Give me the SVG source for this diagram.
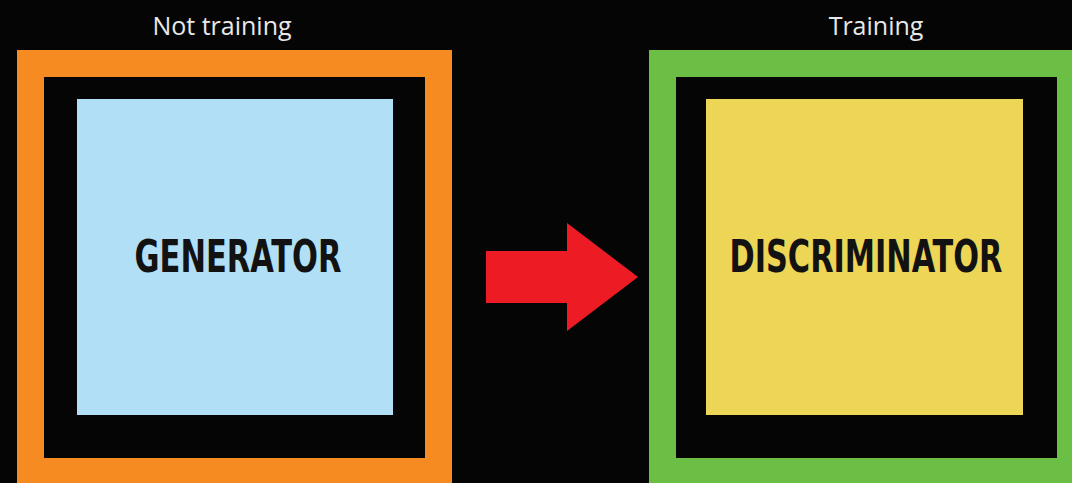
<svg xmlns="http://www.w3.org/2000/svg" width="1072" height="483" viewBox="0 0 1072 483">
<style>
.cap{font-family:"Open Sans","Noto Sans",sans-serif;font-size:25px;fill:#e8e8e8;text-anchor:middle}
.lbl{font-family:"DejaVu Sans Condensed","DejaVu Sans",sans-serif;font-weight:bold;font-stretch:condensed;font-size:40px;fill:#121212;text-anchor:middle}
.inner{fill:#050505}
</style>
<rect width="1072" height="483" fill="#050505"/>
<text class="cap" x="222" y="35">Not training</text>
<text class="cap" x="876" y="35">Training</text>
<g id="generator">
<rect x="17" y="50" width="435" height="433" fill="#f68b21"/>
<rect class="inner" x="44" y="77" width="381" height="381"/>
<rect x="77" y="99" width="316" height="316" fill="#b1e0f6"/>
<text class="lbl" x="238" y="272" textLength="207" lengthAdjust="spacingAndGlyphs" transform="translate(0,-27.2) scale(1,1.1)">GENERATOR</text>
</g>
<g id="discriminator">
<rect x="649" y="50" width="423" height="433" fill="#6cbf45"/>
<rect class="inner" x="676" y="77" width="381" height="381"/>
<rect x="706" y="99" width="317" height="316" fill="#edd555"/>
<text class="lbl" x="866" y="272" textLength="273" lengthAdjust="spacingAndGlyphs" transform="translate(0,-27.2) scale(1,1.1)">DISCRIMINATOR</text>
</g>
<g id="connectors">
<polygon points="486,251 567,251 567,223 638,277 567,331 567,303 486,303" fill="#ed1c24"/>
</g>
</svg>
